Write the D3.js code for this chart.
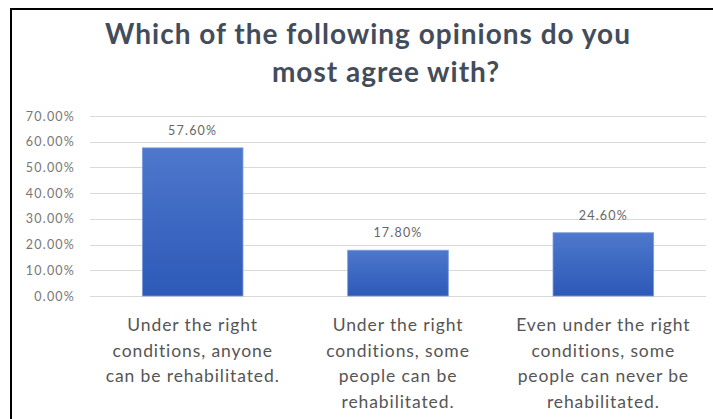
<!DOCTYPE html>
<html>
<head>
<meta charset="utf-8">
<script src="https://cdn.jsdelivr.net/npm/d3@7"></script>
<style>
  html, body { margin: 0; padding: 0; background: #fff; }
  svg { display: block; }
  text { font-family: Lato, "Open Sans", sans-serif; }
</style>
</head>
<body>
<svg id="chart" width="713" height="419"></svg>
<script>
// Survey responses
const titleLines = ["Which of the following opinions do you", "most agree with?"];
const categories = [
  ["Under the right", "conditions, anyone", "can be rehabilitated."],
  ["Under the right", "conditions, some", "people can be", "rehabilitated."],
  ["Even under the right", "conditions, some", "people can never be", "rehabilitated."]
];
const values = [57.6, 17.8, 24.6];
const valueLabels = ["57.60%", "17.80%", "24.60%"];
const yTicks = [0, 10, 20, 30, 40, 50, 60, 70];

const svg = d3.select("#chart");
const W = 713, H = 419;
const plot = { left: 90, right: 706, top: 116, bottom: 296 };

// Frame lines along the top and left edges
svg.append("line").attr("x1", 10).attr("x2", W).attr("y1", 9).attr("y2", 9)
  .attr("stroke", "#000").attr("stroke-width", 2);
svg.append("line").attr("x1", 11).attr("x2", 11).attr("y1", 8).attr("y2", H)
  .attr("stroke", "#000").attr("stroke-width", 2);

// Title
const title = svg.append("text")
  .attr("text-anchor", "middle")
  .attr("fill", "#434c5b")
  .attr("font-weight", "bold")
  .attr("font-size", 28)
  .attr("letter-spacing", 1);
const titleX = [368, 386];
titleLines.forEach((t, i) => {
  title.append("tspan").attr("x", titleX[i]).attr("y", 44 + i * 38).text(t);
});

const x = d3.scaleBand()
  .domain(d3.range(values.length))
  .range([plot.left, plot.right])
  .paddingInner(0.51)
  .paddingOuter(0.255);

const y = d3.scaleLinear().domain([0, 70]).range([plot.bottom, plot.top]);

// Gridlines
svg.append("g")
  .selectAll("line")
  .data(yTicks)
  .join("line")
  .attr("x1", plot.left).attr("x2", plot.right)
  .attr("y1", d => Math.round(y(d)) + 0.5).attr("y2", d => Math.round(y(d)) + 0.5)
  .attr("stroke", "#d9d9d9").attr("stroke-width", 1);

// Y axis labels
const yAxis = d3.axisLeft(y)
  .tickValues(yTicks)
  .tickSize(0)
  .tickPadding(0)
  .tickFormat(d => d3.format(".2f")(d) + "%");
const yg = svg.append("g").attr("transform", `translate(75,0)`).call(yAxis);
yg.select(".domain").remove();
yg.selectAll("text")
  .attr("fill", "#767676")
  .attr("font-size", 12.5)
  .attr("letter-spacing", 1.2)
  .style("font-family", "Lato, 'Open Sans', sans-serif");

// Bar gradient
const defs = svg.append("defs");
const grad = defs.append("linearGradient").attr("id", "barFill")
  .attr("x1", 0).attr("y1", 0).attr("x2", 0).attr("y2", 1);
grad.append("stop").attr("offset", "0%").attr("stop-color", "#4e78cc");
grad.append("stop").attr("offset", "100%").attr("stop-color", "#2d59b8");

// Bars
svg.append("g")
  .selectAll("rect")
  .data(values)
  .join("rect")
  .attr("x", (d, i) => x(i))
  .attr("width", x.bandwidth())
  .attr("y", d => y(d))
  .attr("height", d => y(0) - y(d))
  .attr("fill", "url(#barFill)")
  .attr("stroke", "#7a9bdc")
  .attr("stroke-width", 0.8);

// Value labels
svg.append("g")
  .selectAll("text")
  .data(values)
  .join("text")
  .attr("x", (d, i) => x(i) + x.bandwidth() / 2)
  .attr("y", d => y(d) - 13)
  .attr("text-anchor", "middle")
  .attr("fill", "#666")
  .attr("font-size", 12.5)
  .attr("letter-spacing", 1.2)
  .text((d, i) => valueLabels[i]);

// Category labels
const catG = svg.append("g");
categories.forEach((lines, i) => {
  const t = catG.append("text")
    .attr("text-anchor", "middle")
    .attr("fill", "#555")
    .attr("font-size", 17.5)
    .attr("letter-spacing", 0.9);
  lines.forEach((ln, j) => {
    t.append("tspan")
      .attr("x", x(i) + x.bandwidth() / 2)
      .attr("y", 331 + j * 25.5)
      .text(ln);
  });
});
</script>
</body>
</html>
